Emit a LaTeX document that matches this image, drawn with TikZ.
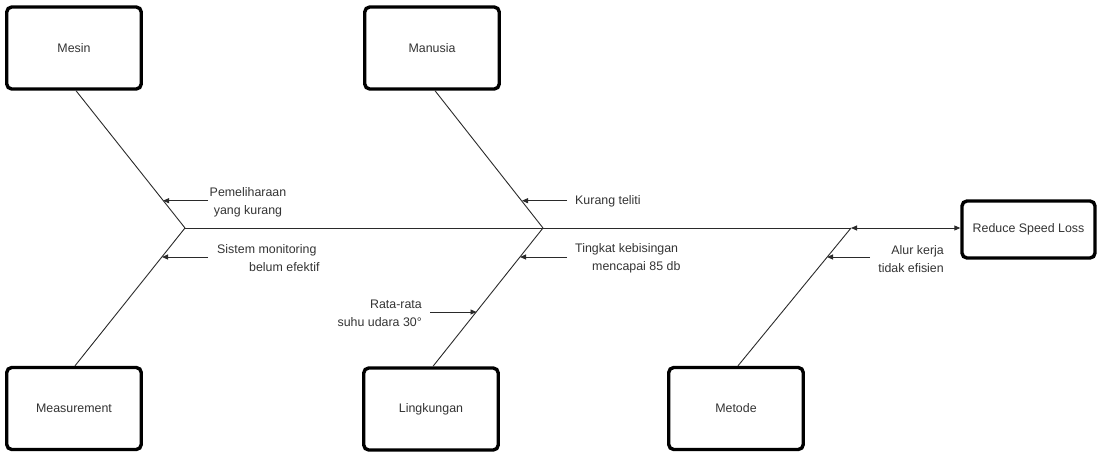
\documentclass[tikz,border=0pt]{standalone}
\usepackage{fontspec}
\setmainfont{Liberation Sans}
\usetikzlibrary{arrows.meta,calc}
\definecolor{txt}{HTML}{333333}
\definecolor{ln}{HTML}{2A2A2A}
\begin{document}
\begin{tikzpicture}[x=1pt,y=-1pt,
  causebox/.style={draw=black,line width=3.4pt,rounded corners=5pt,fill=white,
    minimum width=134.5pt,minimum height=82pt,text=txt,inner sep=0pt},
  effectbox/.style={causebox,minimum width=133pt,minimum height=57pt},
  bone/.style={draw=ln,line width=0.9pt},
  lab/.style={text=txt,inner sep=0pt,font=\fontsize{12.4}{18}\selectfont},
  tip/.style={draw=ln,line width=0.9pt,-{Triangle[length=6pt,width=5pt]}},
  font=\fontsize{12.4}{18}\selectfont]
\useasboundingbox (0,0) rectangle (1098,452);
% boxes
\node[causebox] (mesin) at (74,48) {Mesin};
\node[causebox] (manusia) at (432,48) {Manusia};
\node[causebox] (measure) at (74,408.5) {Measurement};
\node[causebox] (lingk) at (431,409) {Lingkungan};
\node[causebox] (metode) at (736,408.5) {Metode};
\node[effectbox] (reduce) at (1028.5,229.5) {Reduce Speed Loss};
% junctions
\coordinate (j1) at (185,228);
\coordinate (j2) at (543,228);
\coordinate (j3) at (851,228);
% bones
\draw[bone] (j1) -- (j3);
\draw[bone,{Triangle[length=6pt,width=5pt]}-{Triangle[length=6pt,width=5pt]}] (j3) -- (reduce.west |- j3);
\draw[bone] ($(mesin.south)+(2,0)$) -- (j1);
\draw[bone] (j1) -- ($(measure.north)+(1,0)$);
\draw[bone] ($(manusia.south)+(3,0)$) -- (j2);
\draw[bone] (j2) -- ($(lingk.north)+(2,0)$);
\draw[bone] (j3) -- ($(metode.north)+(2,0)$);
% labels
\node[lab,align=center] (l1) at (248,202) {Pemeliharaan\\yang kurang};
\node[lab,align=left,anchor=west] (l2) at (217,258) {Sistem monitoring\\\hspace*{32pt}belum efektif};
\node[lab,anchor=west] (l3) at (575,201) {Kurang teliti};
\node[lab,align=left,anchor=west] (l4) at (575,258.5) {Tingkat kebisingan\\\hspace*{17pt}mencapai 85 db};
\node[lab,align=right,anchor=east] (l5) at (422,313.5) {Rata-rata\\suhu udara 30°};
\node[lab,align=right,anchor=east] (l6) at (944,259.5) {Alur kerja\\tidak efisien};
% label arrows
\coordinate (s1) at (208,200.7); \coordinate (e1) at (163,200.7);
\coordinate (s2) at (208,257);   \coordinate (e2) at (162,257);
\coordinate (s3) at (567,200.7); \coordinate (e3) at (522,200.7);
\coordinate (s4) at (567,257);   \coordinate (e4) at (520,257);
\coordinate (s5) at (430,312);   \coordinate (e5) at (476.5,312);
\coordinate (s6) at (870,257);   \coordinate (e6) at (827,257);
\draw[tip] (s1) -- (e1);
\draw[tip] (s2) -- (e2);
\draw[tip] (s3) -- (e3);
\draw[tip] (s4) -- (e4);
\draw[tip] (s5) -- (e5);
\draw[tip] (s6) -- (e6);
\end{tikzpicture}
\end{document}
